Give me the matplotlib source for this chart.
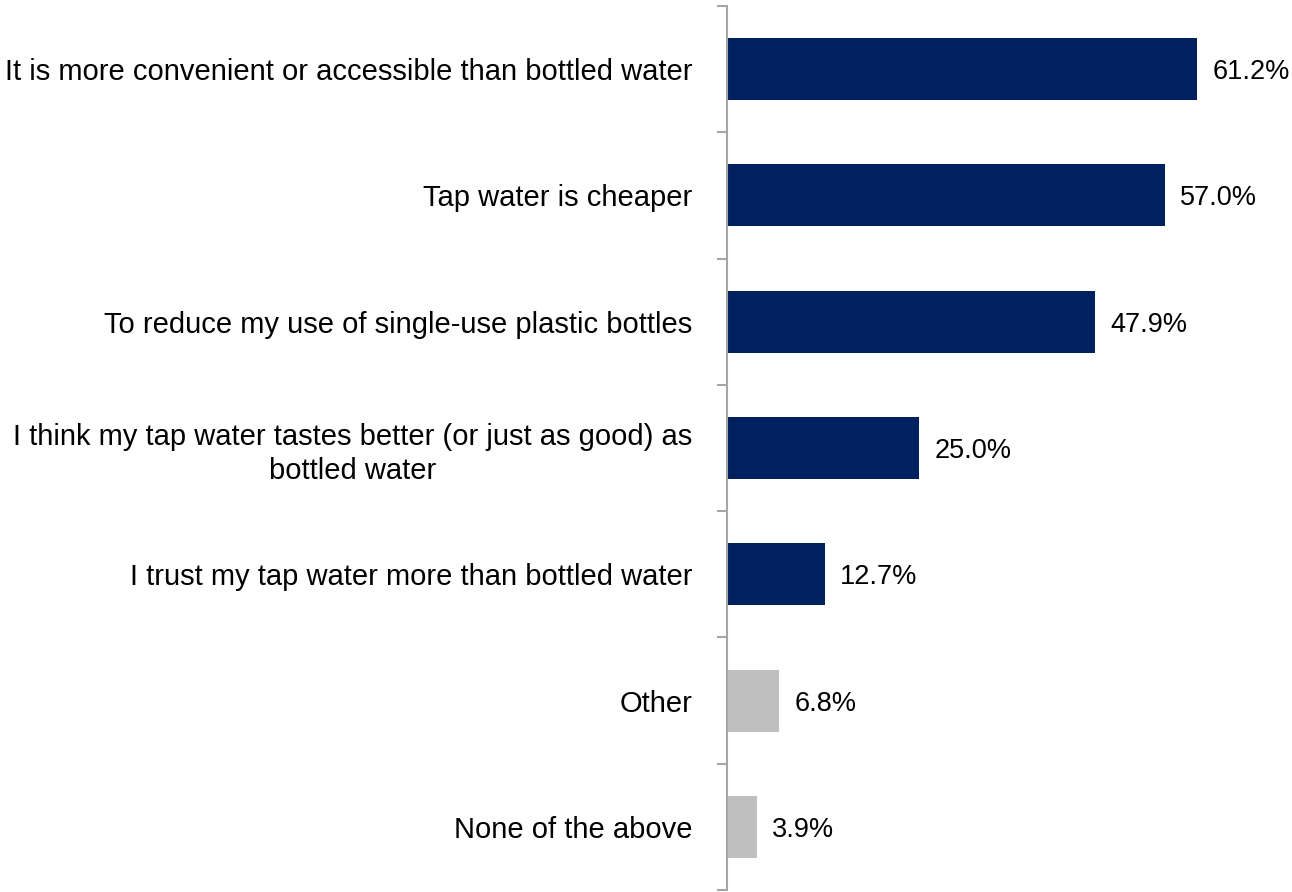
import numpy as np
import matplotlib.pyplot as plt

plt.rcParams['font.family'] = ['Liberation Sans', 'DejaVu Sans']

# Reasons for drinking tap water (share of respondents, %)
reasons = [
    "It is more convenient or accessible than bottled water",
    "Tap water is cheaper",
    "To reduce my use of single-use plastic bottles",
    "I think my tap water tastes better (or just as good) as\nbottled water",
    "I trust my tap water more than bottled water",
    "Other",
    "None of the above",
]
shares = [61.2, 57.0, 47.9, 25.0, 12.7, 6.8, 3.9]
highlight = [True, True, True, True, True, False, False]

navy = '#002060'
grey = '#BFBFBF'
axis_grey = '#A6A6A6'
fs = 21

fig = plt.figure(figsize=(12.92, 8.92), dpi=100)
ax = fig.add_axes([727 / 1292, 2 / 892, (1292 - 727) / 1292, 884 / 892])

ypos = np.arange(len(reasons))
colors = [navy if h else grey for h in highlight]
ax.barh(ypos, shares, height=0.49, color=colors)

for y, v in zip(ypos, shares):
    ax.text(v + 2.0, y, f"{v:.1f}%", va='center_baseline', ha='left', fontsize=19.5)

ax.set_xlim(0, (1292 - 727) / 7.68)
ax.set_ylim(len(reasons) - 0.5, -0.5)

ax.set_yticks(ypos)
ax.set_yticklabels(reasons, fontsize=fs, ha='right', multialignment='center',
                   linespacing=1.25)
ax.tick_params(axis='y', which='major', length=0, pad=25)
ax.set_yticks(np.arange(-0.5, len(reasons)), minor=True)
ax.tick_params(axis='y', which='minor', length=7.2, width=1.5, color=axis_grey, direction='out')
ax.set_xticks([])

for side in ['top', 'right', 'bottom']:
    ax.spines[side].set_visible(False)
ax.spines['left'].set_color(axis_grey)
ax.spines['left'].set_linewidth(1.5)

fig.savefig('out.png', dpi=100)
